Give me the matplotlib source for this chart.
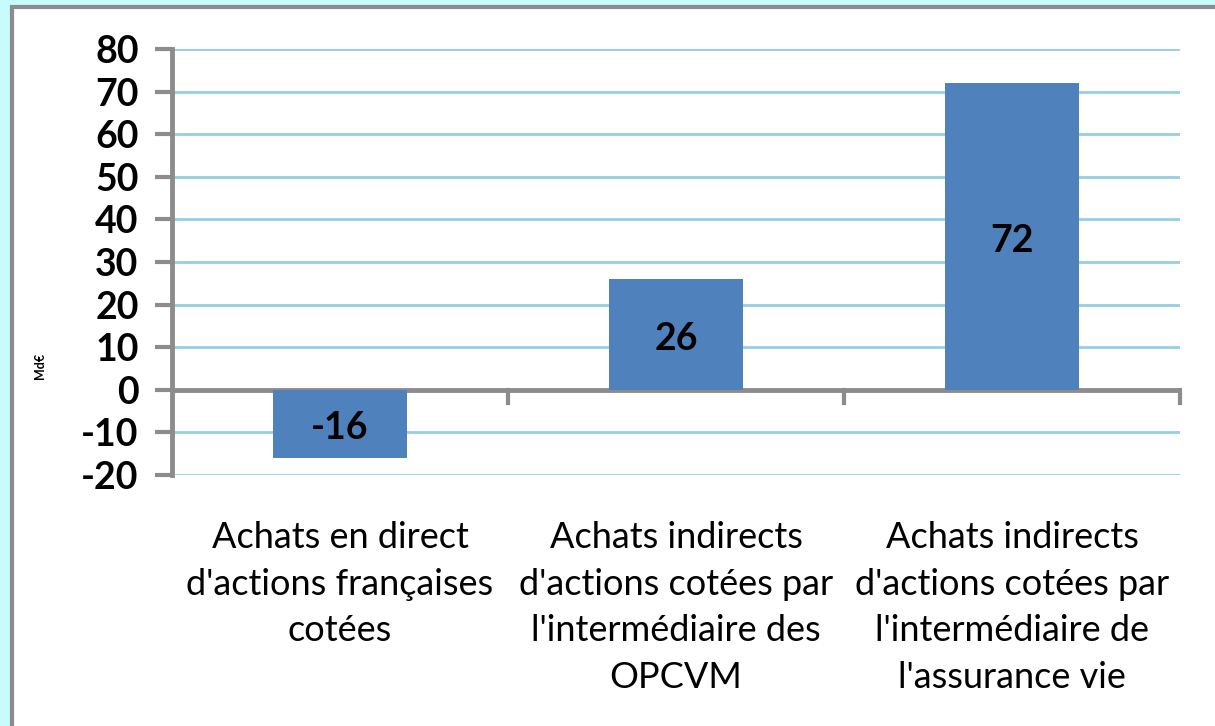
import matplotlib.pyplot as plt
from matplotlib.patches import Rectangle

categories = ["Achats en direct\nd'actions françaises\ncotées",
              "Achats indirects\nd'actions cotées par\nl'intermédiaire des\nOPCVM",
              "Achats indirects\nd'actions cotées par\nl'intermédiaire de\nl'assurance vie"]
values = [-16, 26, 72]
yticks = [-20, -10, 0, 10, 20, 30, 40, 50, 60, 70, 80]

plt.rcParams['font.family'] = ['Lato', 'DejaVu Sans']

fig = plt.figure(figsize=(12.15, 7.26), dpi=100, facecolor="#c8fcfc")
# white panel with grey frame
fig.patches.append(Rectangle((12 / 1215, -0.01), 1.02, 1 - 7 / 726 + 0.01,
                             transform=fig.transFigure, facecolor="white",
                             edgecolor="#8c8c8c", linewidth=3, zorder=-1))

ax = fig.add_axes([172 / 1215, 1 - 475 / 726, (1180 - 172) / 1215, (475 - 49) / 726])
ax.set_zorder(1)
ax.set_facecolor("none")
x = range(len(values))
ax.bar(x, values, width=0.4, color="#4f81bd", zorder=3)
for i, v in enumerate(values):
    ax.text(i, v / 2 - 1, str(v), ha="center", va="center", fontsize=27,
            fontweight="bold", zorder=4)

ax.set_xlim(-0.5, 2.5)
ax.set_ylim(-20, 80)
ax.set_yticks(yticks)
ax.set_yticklabels([str(t) for t in yticks], fontsize=27, fontweight="bold")
ax.grid(axis="y", color="#96cfe0", linewidth=2, zorder=1)
ax.axhline(0, color="#8c8c8c", linewidth=3.5, zorder=2)
for s in ["top", "right", "bottom"]:
    ax.spines[s].set_visible(False)
ax.spines["left"].set_color("#8c8c8c")
ax.spines["left"].set_linewidth(3.5)
ax.tick_params(axis="y", length=12, width=3, color="#8c8c8c", pad=12)
ax.set_xticks([])
for b in [0.5, 1.5, 2.5]:
    ax.plot([b, b], [0, -3], color="#8c8c8c", linewidth=3, clip_on=False, zorder=2)
for i, c in enumerate(categories):
    ax.text(i, -30.8, c, ha="center", va="top", fontsize=26, linespacing=1.5)

fig.text(40 / 1215, 1 - 366 / 726, "Md€", rotation=90, fontsize=9,
         fontweight="bold", ha="center", va="center", zorder=2)

fig.savefig("out.png", dpi=100, facecolor=fig.get_facecolor())
